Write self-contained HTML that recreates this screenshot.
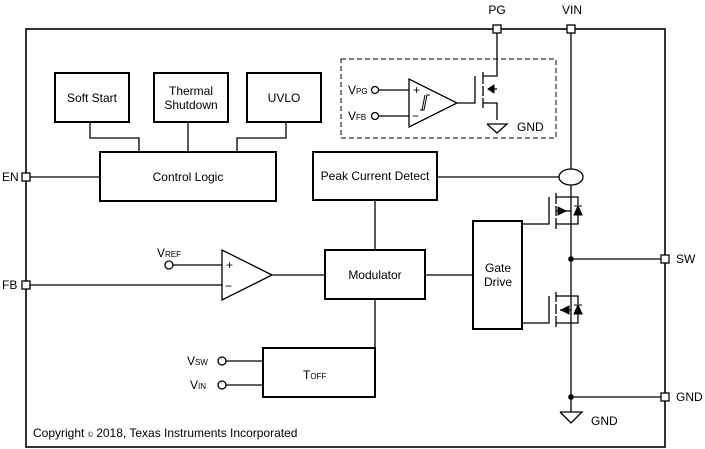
<!DOCTYPE html>
<html><head><meta charset="utf-8"><style>
html,body{margin:0;padding:0;background:#fff}
svg{display:block}
text{font-family:"Liberation Sans",Arial,sans-serif;font-size:12px;fill:#000}
.s{font-size:8px}
</style></head><body>
<svg width="705" height="449" viewBox="0 0 705 449" xmlns="http://www.w3.org/2000/svg">
<g fill="none" stroke="#000" stroke-width="1.3">
<!-- outer -->
<rect x="26" y="29" width="639" height="418" stroke-width="1.6"/>
<!-- dashed box -->
<rect x="341" y="59" width="215" height="79" stroke-dasharray="5,3" stroke-width="1"/>
<!-- top blocks -->
<rect x="55" y="73" width="74" height="49" stroke-width="2"/>
<rect x="154" y="73" width="74" height="49" stroke-width="2"/>
<rect x="247" y="73" width="74" height="49" stroke-width="2"/>
<rect x="100" y="152" width="176" height="49" stroke-width="2"/>
<rect x="313" y="152" width="124" height="48" stroke-width="2"/>
<rect x="325" y="250" width="100" height="49" stroke-width="2"/>
<rect x="473" y="221" width="49" height="108" stroke-width="2"/>
<rect x="263" y="348" width="112" height="49" stroke-width="2"/>
<!-- connections -->
<polyline points="90,122 90,138 139,138 139,152"/>
<line x1="188" y1="122" x2="188" y2="152"/>
<polyline points="286,122 286,138 237,138 237,152"/>
<line x1="26" y1="177" x2="100" y2="177"/>
<line x1="437" y1="177" x2="559" y2="177"/>
<line x1="375" y1="200" x2="375" y2="250"/>
<polyline points="375,299 375,372 375,372"/>
<line x1="272" y1="275" x2="325" y2="275"/>
<line x1="425" y1="275" x2="473" y2="275"/>
<line x1="26" y1="285" x2="222" y2="285"/>
<line x1="173" y1="265" x2="222" y2="265"/>
<line x1="226" y1="361" x2="263" y2="361"/>
<line x1="226" y1="385" x2="263" y2="385"/>
<!-- error amp -->
<polygon points="222,250 222,300 272,275"/>
<circle cx="169" cy="265" r="4"/>
<circle cx="222" cy="361" r="4"/>
<circle cx="222" cy="385" r="4"/>
<!-- PG comparator -->
<polygon points="409,79 409,127 457,103"/>
<circle cx="375" cy="90" r="3.5"/>
<circle cx="375" cy="116" r="3.5"/>
<line x1="379" y1="90" x2="409" y2="90"/>
<line x1="379" y1="116" x2="409" y2="116"/>
<polyline points="420,110 424,110 427,95 430,95" stroke-width="1"/>
<polyline points="422,110 425,95" stroke-width="1"/>
<polyline points="457,103 475,103 475,76"/>
<line x1="483" y1="72" x2="483" y2="84"/>
<line x1="483" y1="86" x2="483" y2="96"/>
<line x1="483" y1="98" x2="483" y2="108"/>
<polyline points="483,76 497,76 497,29"/>
<polyline points="483,103 497,103 497,120"/>
<line x1="488" y1="89" x2="497" y2="89"/>
<polyline points="487,124 507,124 497,133 487,124"/>
<!-- VIN line -->
<line x1="571" y1="29" x2="571" y2="169"/>
<ellipse cx="571" cy="177" rx="12" ry="8"/>
<line x1="571" y1="185" x2="571" y2="412"/>
<line x1="571" y1="259" x2="665" y2="259"/>
<line x1="571" y1="397" x2="665" y2="397"/>
<polyline points="560,412 582,412 571,423 560,412"/>
<!-- high side FET -->
<polyline points="522,224 549,224 549,197"/>
<line x1="556" y1="193" x2="556" y2="204"/>
<line x1="556" y1="206" x2="556" y2="216"/>
<line x1="556" y1="218" x2="556" y2="229"/>
<polyline points="556,197 578,197 578,205"/>
<polyline points="556,224 578,224 578,215"/>
<line x1="556" y1="211" x2="571" y2="211"/>
<!-- low side FET -->
<polyline points="522,323 549,323 549,296"/>
<line x1="556" y1="292" x2="556" y2="302"/>
<line x1="556" y1="304" x2="556" y2="314"/>
<line x1="556" y1="316" x2="556" y2="327"/>
<polyline points="556,296 578,296 578,304"/>
<polyline points="556,323 578,323 578,314"/>
<line x1="560" y1="310" x2="571" y2="310"/>
</g>
<g fill="#000" stroke="#000" stroke-width="1">
<polygon points="558,207 558,215 566,211"/>
<polygon points="574,215 582,215 578,206"/><line x1="574" y1="206" x2="582" y2="206"/>
<polygon points="569,306 569,314 561,310"/>
<polygon points="574,314 582,314 578,305"/><line x1="574" y1="305" x2="582" y2="305"/>
<polygon points="488,89 494,85 494,93"/>
<circle cx="571" cy="259" r="2.3"/>
<circle cx="571" cy="397" r="2.3"/>
</g>
<!-- pins -->
<g fill="#fff" stroke="#000" stroke-width="1.3">
<rect x="493" y="25" width="8" height="8"/>
<rect x="567" y="25" width="8" height="8"/>
<rect x="22" y="173" width="8" height="8"/>
<rect x="22" y="281" width="8" height="8"/>
<rect x="661" y="255" width="8" height="8"/>
<rect x="661" y="393" width="8" height="8"/>
</g>
<text x="497" y="14" text-anchor="middle" font-size="11">PG</text>
<text x="572" y="14" text-anchor="middle" font-size="11">VIN</text>
<text x="2" y="181" font-size="11">EN</text>
<text x="2" y="289" font-size="11">FB</text>
<text x="676" y="263" font-size="11">SW</text>
<text x="676" y="401" font-size="11">GND</text>
<text x="92" y="102" text-anchor="middle">Soft Start</text>
<text x="191" y="95" text-anchor="middle">Thermal</text>
<text x="191" y="109" text-anchor="middle">Shutdown</text>
<text x="284" y="102" text-anchor="middle">UVLO</text>
<text x="188" y="181" text-anchor="middle">Control Logic</text>
<text x="375" y="180" text-anchor="middle">Peak Current Detect</text>
<text x="375" y="279" text-anchor="middle">Modulator</text>
<text x="498" y="272" text-anchor="middle">Gate</text>
<text x="498" y="286" text-anchor="middle">Drive</text>
<text x="303" y="379">T<tspan class="s">OFF</tspan></text>
<text x="157" y="257">V<tspan class="s">REF</tspan></text>
<text x="187" y="365">V<tspan class="s">SW</tspan></text>
<text x="190" y="389">V<tspan class="s">IN</tspan></text>
<text x="348" y="94">V<tspan class="s">PG</tspan></text>
<text x="348" y="120">V<tspan class="s">FB</tspan></text>
<text x="413" y="94" font-size="9">+</text>
<text x="412" y="120" font-size="10">−</text>
<text x="226" y="269" font-size="9">+</text>
<text x="225" y="290" font-size="10">−</text>
<text x="517" y="131" font-size="11">GND</text>
<text x="591" y="425" font-size="11">GND</text>
<text x="33" y="437" font-size="11">Copyright <tspan font-size="7">©</tspan> 2018, Texas Instruments Incorporated</text>
</svg>
</body></html>
